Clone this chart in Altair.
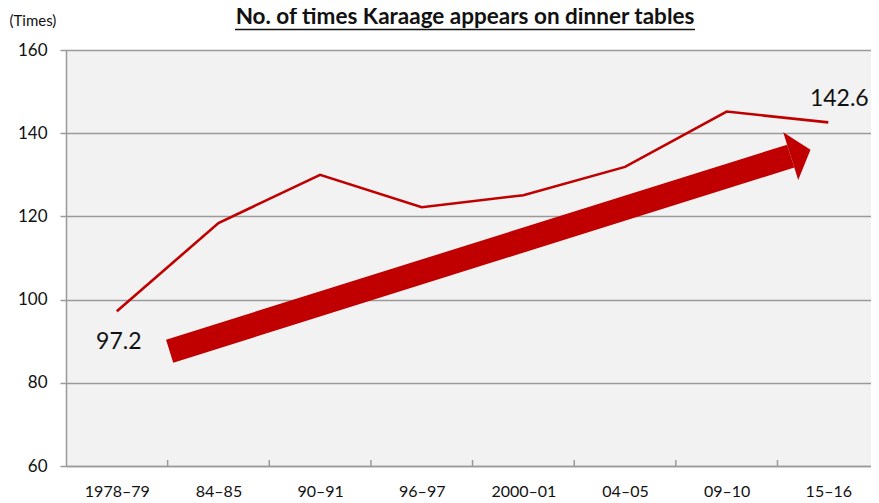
import altair as alt
import pandas as pd
import json

periods = ["1978–79", "84–85", "90–91", "96–97", "2000–01", "04–05", "09–10", "15–16"]
times = [97.2, 118.4, 130.0, 122.2, 125.1, 131.9, 145.2, 142.6]

# decorative trend arrow (data coordinates: period index, value)
arrow_x = [0.52, 6.63]
arrow_y = [87.6, 134.5]

title_text = "No. of times Karaage appears on dinner tables"
RED = "#c00000"
GRID = "#9a9a9a"
FONT = "Lato"

W, H = 805, 416

df = pd.DataFrame({"i": list(range(len(periods))), "period": periods, "times": times})
df_arrow = pd.DataFrame({"i": arrow_x, "times": arrow_y})
df_head = df_arrow.iloc[[-1]]
df_ticks = pd.DataFrame({"i": [k + 0.5 for k in range(len(periods) - 1)], "lo": [60] * 7, "hi": [61.45] * 7})
df_first = df.iloc[[0]]
df_last = df.iloc[[-1]]
df_title = pd.DataFrame({"t": [title_text]})

label_expr = json.dumps(periods, ensure_ascii=False) + "[datum.value]"

x_scale = alt.Scale(domain=[-0.5, 7.42], nice=False, zero=False)
y_scale = alt.Scale(domain=[60, 160], nice=False, zero=False)

x_enc = alt.X(
    "i:Q", scale=x_scale,
    axis=alt.Axis(values=list(range(len(periods))), labelExpr=label_expr, title=None,
                  grid=False, ticks=False, labelPadding=17, labelFontSize=16,
                  labelFont=FONT, labelColor="#111", domainColor=GRID, domainWidth=1.5,
                  labelFlush=False, labelOverlap=False),
)
y_enc = alt.Y(
    "times:Q", scale=y_scale,
    axis=alt.Axis(values=[60, 80, 100, 120, 140, 160], title="(Times)", titleAngle=0,
                  titleX=-57, titleY=-30, titleAlign="left", titleBaseline="middle",
                  titleFont=FONT, titleFontSize=15, titleFontWeight="normal", titleColor="#111",
                  grid=True, gridColor=GRID, gridWidth=1.5, tickColor=GRID, tickSize=6,
                  tickWidth=1.5, domainColor=GRID, domainWidth=1.5, labelPadding=13,
                  labelFontSize=17, labelFont=FONT, labelColor="#111"),
)

line = alt.Chart(df).mark_line(color=RED, strokeWidth=2.6).encode(x=x_enc, y=y_enc)

ticks = alt.Chart(df_ticks).mark_rule(color=GRID, strokeWidth=1.5).encode(
    x=alt.X("i:Q", scale=x_scale), y=alt.Y("lo:Q", scale=y_scale), y2="hi:Q")

shaft = alt.Chart(df_arrow).mark_line(color=RED, strokeWidth=24, strokeCap="butt").encode(
    x=alt.X("i:Q", scale=x_scale), y=alt.Y("times:Q", scale=y_scale))

head = alt.Chart(df_head).mark_point(
    shape="M0,-1 L0.83,0 L0,1 Z", filled=True, color=RED, opacity=1, size=2500, angle=342.5
).encode(x=alt.X("i:Q", scale=x_scale), y=alt.Y("times:Q", scale=y_scale))

lab_first = alt.Chart(df_first).mark_text(font=FONT, fontSize=23, color="#111", dy=31, dx=2).encode(
    x=alt.X("i:Q", scale=x_scale), y=alt.Y("times:Q", scale=y_scale), text=alt.Text("times:Q", format=".1f"))
lab_last = alt.Chart(df_last).mark_text(font=FONT, fontSize=23, color="#111", dy=-23, dx=11).encode(
    x=alt.X("i:Q", scale=x_scale), y=alt.Y("times:Q", scale=y_scale), text=alt.Text("times:Q", format=".1f"))

title = alt.Chart(df_title).mark_text(font=FONT, fontSize=22.5, fontWeight="bold", color="#111",
                                      align="center", baseline="alphabetic").encode(
    x=alt.value(399), y=alt.value(-26.5), text="t:N")

underline = alt.Chart(df_title).mark_rule(color="#111", strokeWidth=1.5).encode(
    x=alt.value(169), x2=alt.value(629), y=alt.value(-20.5))

chart = alt.layer(ticks, line, shaft, head, lab_first, lab_last, title, underline).properties(
    width=W, height=H,
    autosize=alt.AutoSizeParams(type="none"),
    padding={"left": 58, "top": 42, "right": 0, "bottom": 37},
).configure_view(fill="#f2f2f2", strokeWidth=0)

chart.save("out.html", embed_options={"renderer": "svg", "actions": False})
